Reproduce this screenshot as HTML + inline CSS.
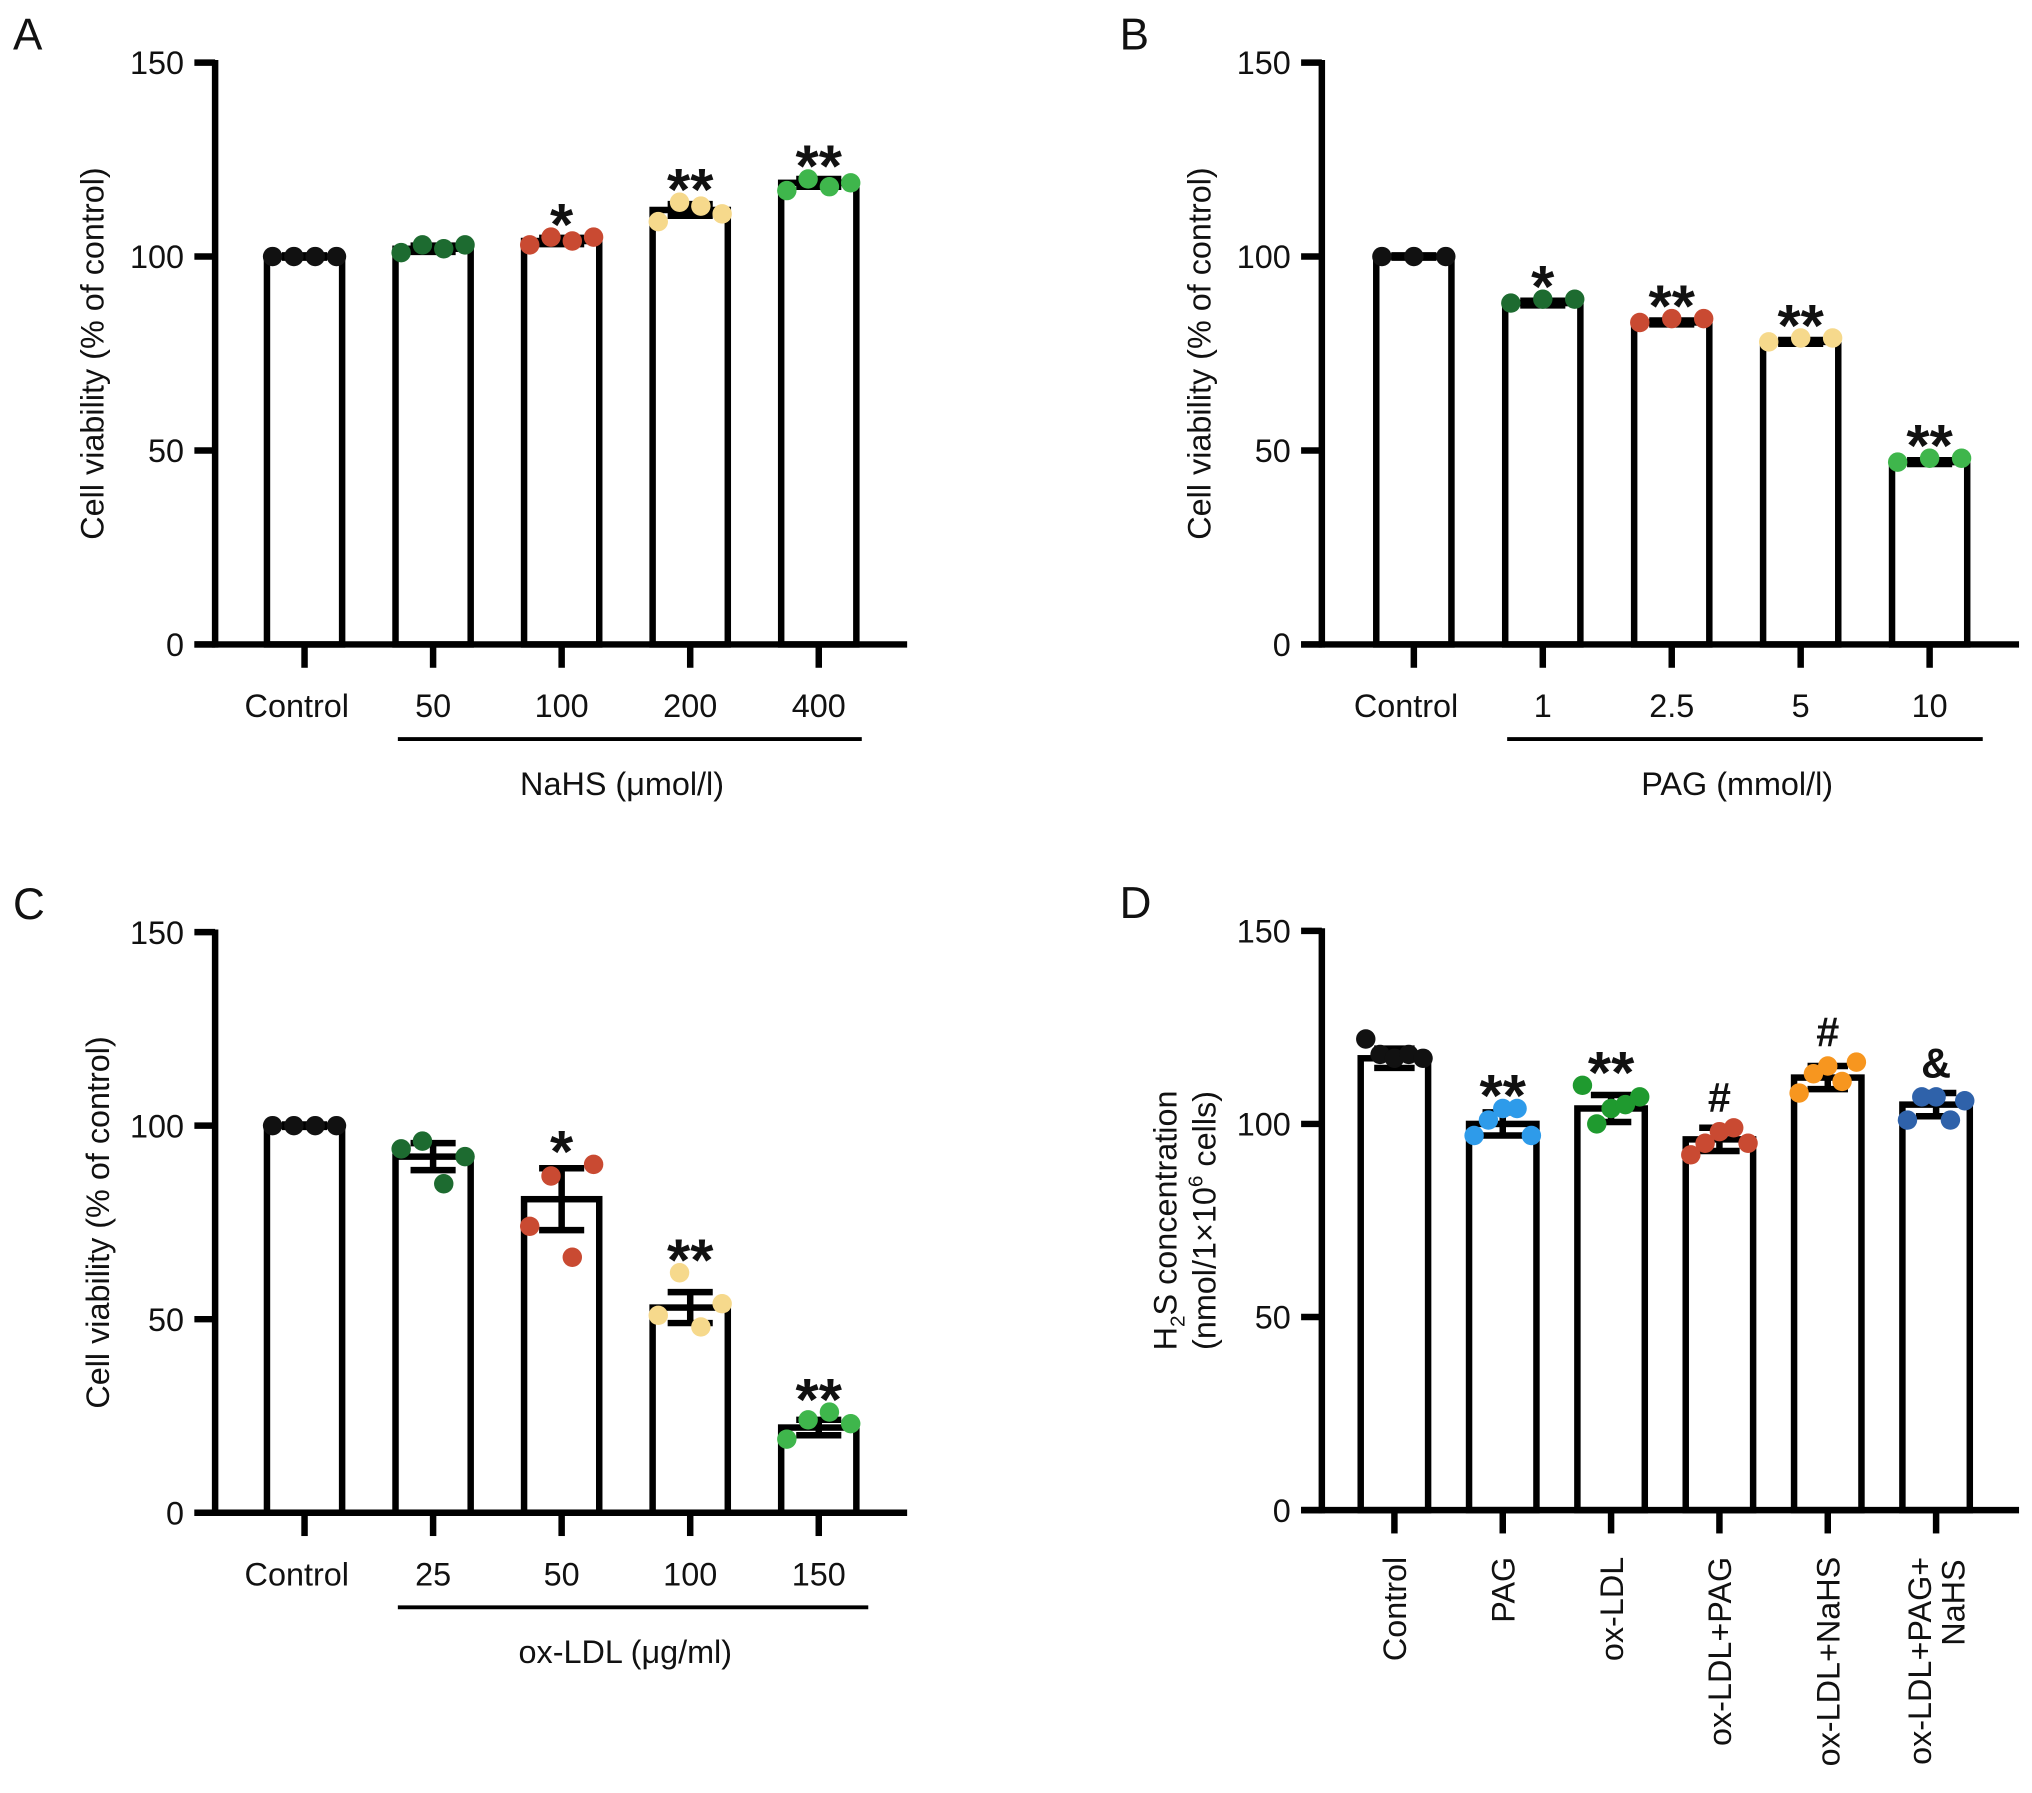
<!DOCTYPE html>
<html><head><meta charset="utf-8">
<style>
html,body{margin:0;padding:0;background:#fff;}
svg{display:block;font-family:"Liberation Sans",sans-serif;}
</style></head>
<body>
<svg id="fig" width="2032" height="1793" viewBox="0 0 1568 1383" xmlns="http://www.w3.org/2000/svg"></svg>
<script>
// Panel A
const aCats = ["Control","50","100","200","400"];
const aMeans = [100,102,104,112,119];
const aErr = [0.3,0.8,0.8,1.5,1.0];
const aDots = [[100,100,100,100],[101,103,102,103],[103,105,104,105],[109,114,113,111],[117,120,118,119]];
const aSig = ["","","*","**","**"];
// Panel B
const bCats = ["Control","1","2.5","5","10"];
const bMeans = [100,88,83,78,47];
const bErr = [0.3,0.6,0.5,0.5,0.5];
const bDots = [[100,100,100],[88,89,89],[83,84,84],[78,79,79],[47,48,48]];
const bSig = ["","*","**","**","**"];
// Panel C
const cCats = ["Control","25","50","100","150"];
const cMeans = [100,92,81,53,22];
const cErr = [0.3,3.5,8,4,2];
const cDots = [[100,100,100,100],[94,96,85,92],[74,87,66,90],[51,62,48,54],[19,24,26,23]];
const cSig = ["","","*","**","**"];
// Panel D
const dCats = ["Control","PAG","ox-LDL","ox-LDL+PAG","ox-LDL+NaHS","ox-LDL+PAG+|NaHS"];
const dMeans = [117,100,104,96,112,105];
const dErr = [2.5,3,3.5,3,3,3];
const dDots = [[122,118,117,118,117],[97,101,104,104,97],[110,100,104,105,107],[92,95,98,99,95],[108,113,115,111,116],[101,107,107,101,106]];
const dSig = ["","**","**","#","#","&"];
const yTicks = [0,50,100,150];

const NS="http://www.w3.org/2000/svg";
const svg=document.getElementById('fig');
function mk(tag,attrs,parent){const e=document.createElementNS(NS,tag);for(const k in attrs)e.setAttribute(k,attrs[k]);(parent||svg).appendChild(e);return e;}
function txt(x,y,s,size,anchor,parent,extra){const t=mk('text',Object.assign({x:x,y:y,'font-size':size,'text-anchor':anchor||'middle',fill:'#111'},extra||{}),parent);t.textContent=s;return t;}

function panel(o){
  const g=mk('g',{});
  
  
  const y=v=>o.y0-(v/150)*(o.y0-o.y150);
  const x=i=>o.x0+i*o.dx;
  const L=txt(o.ax-156,o.y150-10,o.letter,34,'start',g);  
  o.means.forEach((m,i)=>{
    const r=mk('rect',{x:x(i)-o.bw/2,y:y(m),width:o.bw,height:o.y0-y(m),fill:'#fff',stroke:'#000','stroke-width':5},g);
    
    
  });
  o.means.forEach((m,i)=>{
    const e=o.err[i];
    const eg=mk('g',{stroke:'#000','stroke-width':5},g);
    
    
    mk('line',{x1:x(i),x2:x(i),y1:y(m-e),y2:y(m+e)},eg);
    mk('line',{x1:x(i)-o.bw*0.3,x2:x(i)+o.bw*0.3,y1:y(m+e),y2:y(m+e)},eg);
    mk('line',{x1:x(i)-o.bw*0.3,x2:x(i)+o.bw*0.3,y1:y(m-e),y2:y(m-e)},eg);
  });
  o.dots.forEach((arr,i)=>{
    const n=arr.length;
    arr.forEach((v,j)=>{
      const off=n===1?0:(j/(n-1)-0.5)*o.bw*0.85;
      const c=mk('circle',{cx:x(i)+off,cy:y(v),r:7.5,fill:o.colors[i]},g);
      
      
    });
  });
  o.sig.forEach((s,i)=>{
    if(!s)return;
    const top=Math.max(o.means[i]+o.err[i],Math.max(...o.dots[i]));
    const star=s.indexOf('*')>=0;
    const t=txt(x(i),y(top)-(star?-6:12),s,star?46:32,'middle',g,{'font-weight':'bold'});
    
    
  });
  const ax=mk('g',{stroke:'#000','stroke-width':5,fill:'none'},g);
  
  
  mk('line',{x1:o.ax,x2:o.ax,y1:o.y150-2,y2:o.y0+2.5},ax);
  mk('line',{x1:o.ax-16,x2:o.xEnd,y1:o.y0,y2:o.y0},ax);
  yTicks.forEach(v=>{mk('line',{x1:o.ax-16,x2:o.ax,y1:y(v),y2:y(v)},ax);});
  o.cats.forEach((c,i)=>{mk('line',{x1:x(i),x2:x(i),y1:o.y0,y2:o.y0+18},ax);});
  yTicks.forEach(v=>{const t=txt(o.ax-24,y(v)+9,String(v),25,'end',g);});
  const yt=mk('g',{transform:`translate(${o.ylx},${(o.y0+o.y150)/2}) rotate(-90)`},g);
  
  
  if(o.ytitle){txt(0,0,o.ytitle,25,'middle',yt);}
  else{
    const t1=mk('text',{x:0,y:-10,'font-size':25,'text-anchor':'middle',fill:'#111'},yt);
    t1.innerHTML='H<tspan font-size="16" dy="6">2</tspan><tspan dy="-6">S concentration</tspan>';
    const t2=mk('text',{x:0,y:20,'font-size':25,'text-anchor':'middle',fill:'#111'},yt);
    t2.innerHTML='(nmol/1×10<tspan font-size="16" dy="-10">6</tspan><tspan dy="10"> cells)</tspan>';
  }
  if(!o.rot){
    o.cats.forEach((c,i)=>{const t=txt(x(i)-(i===0?6:0),o.y0+56,c,25,'middle',g);});
    const l=mk('line',{x1:o.gx1,x2:o.gx2,y1:o.y0+73,y2:o.y0+73,stroke:'#000','stroke-width':3},g);
    
    const gt=txt((o.gx1+o.gx2)/2-6,o.y0+116,o.gtitle,25,'middle',g);
    
  } else {
    o.cats.forEach((c,i)=>{
      const parts=c.split('|');
      const lg=mk('g',{transform:`translate(${x(i)},${o.y0+36}) rotate(-90)`},g);
      
      
      if(parts.length===1) txt(0,9,parts[0],25,'end',lg);
      else {txt(0,-4,parts[0],25,'end',lg);txt(-2,22,parts[1],25,'end',lg);}
    });
  }
}
const C={k:'#111',dg:'#1d6b30',r:'#c94a32',y:'#f6d98c',g:'#3fb64c',b:'#2e9bea',o:'#f7961f',db:'#2f62aa',gr:'#1f9a2f'};
panel({name:'panel-a',letter:'A',ax:166,y150:48,y0:497,x0:235,dx:99.2,bw:58,xEnd:700,cats:aCats,means:aMeans,err:aErr,dots:aDots,sig:aSig,colors:[C.k,C.dg,C.r,C.y,C.g],ylx:80,ytitle:'Cell viability (% of control)',gx1:307,gx2:665,gtitle:'NaHS (μmol/l)'});
panel({name:'panel-b',letter:'B',ax:1020,y150:48,y0:497,x0:1091,dx:99.5,bw:58,xEnd:1558,cats:bCats,means:bMeans,err:bErr,dots:bDots,sig:bSig,colors:[C.k,C.dg,C.r,C.y,C.g],ylx:934,ytitle:'Cell viability (% of control)',gx1:1163,gx2:1530,gtitle:'PAG (mmol/l)'});
panel({name:'panel-c',letter:'C',ax:166,y150:719,y0:1167,x0:235,dx:99.2,bw:58,xEnd:700,cats:cCats,means:cMeans,err:cErr,dots:cDots,sig:cSig,colors:[C.k,C.dg,C.r,C.y,C.g],ylx:84,ytitle:'Cell viability (% of control)',gx1:307,gx2:670,gtitle:'ox-LDL (μg/ml)'});
panel({name:'panel-d',letter:'D',ax:1020,y150:718,y0:1165,x0:1076,dx:83.6,bw:52,xEnd:1558,cats:dCats,means:dMeans,err:dErr,dots:dDots,sig:dSig,colors:[C.k,C.b,C.gr,C.r,C.o,C.db],ylx:918,ytitle:null,rot:true});
</script>
</body></html>
